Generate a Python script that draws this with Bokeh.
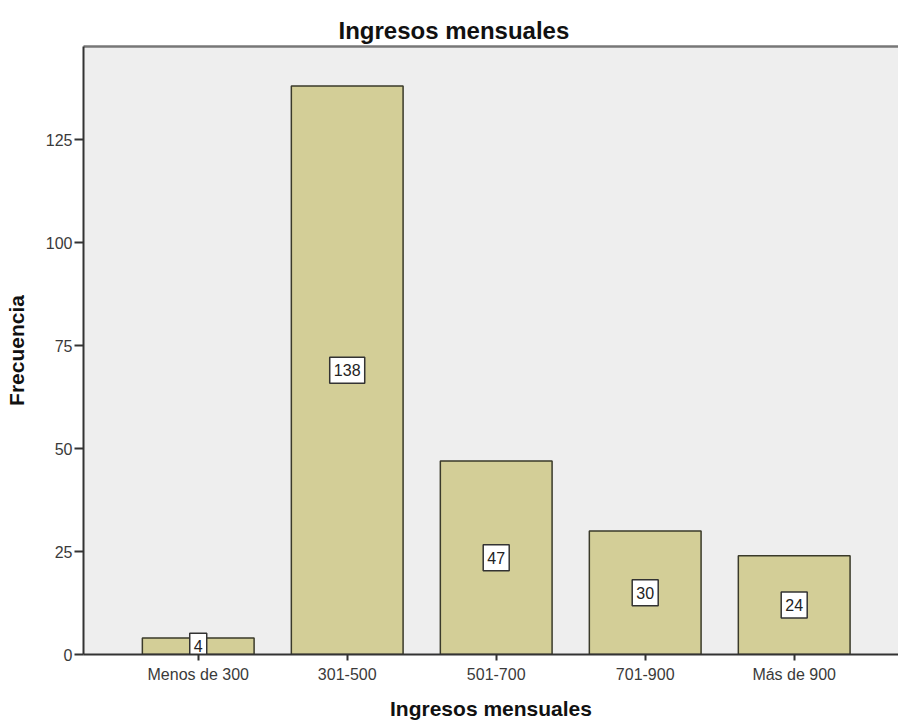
from bokeh.plotting import figure
from bokeh.models import ColumnDataSource, FixedTicker, Range1d, LinearAxis
from bokeh.core.properties import value
from bokeh.embed import file_html
from bokeh.resources import INLINE

categories = ["Menos de 300", "301-500", "501-700", "701-900", "Más de 900"]
counts = [4, 138, 47, 30, 24]
y_ticks = [0, 25, 50, 75, 100, 125]

xs = list(range(len(categories)))
txt = [str(c) for c in counts]
src = ColumnDataSource(dict(
    x=xs, top=counts, mid=[c / 2 for c in counts], txt=txt,
    bw=[9 * len(t) + 8 for t in txt]))

FONT = "Liberation Sans"

p = figure(width=898, height=723, output_backend="svg", toolbar_location=None,
           x_range=Range1d(-0.77, 4.70), y_range=Range1d(0, 147.6),
           min_border_left=83, min_border_right=0, min_border_top=46, min_border_bottom=69,
           title="Ingresos mensuales")

p.background_fill_color = "#EEEEEE"
p.border_fill_color = "white"
p.outline_line_color = None
p.grid.visible = False

p.title.align = "left"
p.title.offset = 255
p.title.text_font = FONT
p.title.text_font_style = "bold"
p.title.text_font_size = "24px"
p.title.text_color = "#111111"
p.title.standoff = 5

top_axis = LinearAxis(ticker=FixedTicker(ticks=[]), axis_line_color="#777777",
                      axis_line_width=2.5, major_tick_line_color=None,
                      minor_tick_line_color=None)
p.add_layout(top_axis, "above")

p.vbar(x="x", top="top", width=0.75, source=src, fill_color="#D3CE97",
       line_color="#3a3a2a", line_width=1.5)

p.rect(x="x", y="mid", width="bw", height=26, width_units="screen", height_units="screen",
       source=src, fill_color="white", line_color="#333333", line_width=1.5)
p.text(x="x", y="mid", text="txt", source=src, text_align="center",
       text_baseline="middle", text_font=value(FONT), text_font_size="16px",
       text_color="#222222")

xa = p.below[0]
ya = p.left[0]
xa.ticker = FixedTicker(ticks=xs)
xa.major_label_overrides = {i: c for i, c in zip(xs, categories)}
ya.ticker = FixedTicker(ticks=y_ticks)

for ax in (xa, ya):
    ax.axis_line_color = "#333333"
    ax.axis_line_width = 2
    ax.major_tick_line_color = "#333333"
    ax.major_tick_line_width = 2
    ax.minor_tick_line_color = None
    ax.major_tick_in = 0
    ax.major_label_text_font = FONT
    ax.major_label_text_font_size = "16px"
    ax.major_label_text_color = "#3a3a3a"
    ax.axis_label_text_font = FONT
    ax.axis_label_text_font_style = "bold"
    ax.axis_label_text_font_size = "21px"
    ax.axis_label_text_color = "#111111"

xa.major_tick_out = 6
ya.major_tick_out = 9
xa.axis_label = "Ingresos mensuales"
ya.axis_label = "Frecuencia"
xa.major_label_standoff = 5
ya.major_label_standoff = 2
xa.axis_label_standoff = 11
ya.axis_label_standoff = 15

open("out.html", "w").write(file_html(p, INLINE))
